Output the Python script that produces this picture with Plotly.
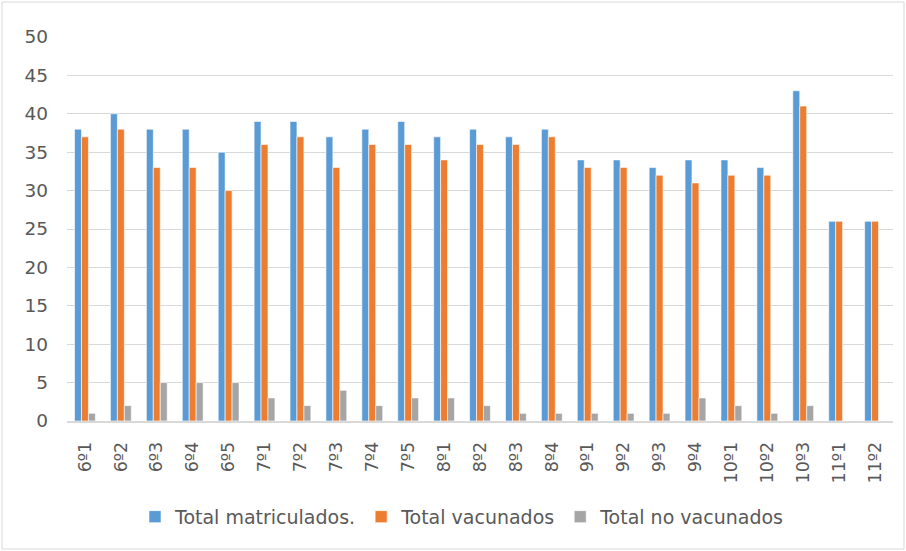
import plotly.graph_objects as go

categories = ["6º1", "6º2", "6º3", "6º4", "6º5", "7º1", "7º2", "7º3", "7º4", "7º5",
              "8º1", "8º2", "8º3", "8º4", "9º1", "9º2", "9º3", "9º4",
              "10º1", "10º2", "10º3", "11º1", "11º2"]
matriculados = [38, 40, 38, 38, 35, 39, 39, 37, 38, 39, 37, 38, 37, 38, 34, 34, 33, 34, 34, 33, 43, 26, 26]
vacunados = [37, 38, 33, 33, 30, 36, 37, 33, 36, 36, 34, 36, 36, 37, 33, 33, 32, 31, 32, 32, 41, 26, 26]
no_vacunados = [1, 2, 5, 5, 5, 3, 2, 4, 2, 3, 3, 2, 1, 1, 1, 1, 1, 3, 2, 1, 2, 0, 0]
y_ticks = [0, 5, 10, 15, 20, 25, 30, 35, 40, 45, 50]

series = [
    ("Total matriculados.", matriculados, "#5b9bd5"),
    ("Total vacunados", vacunados, "#ed7d31"),
    ("Total no vacunados", no_vacunados, "#a5a5a5"),
]

fig = go.Figure()
for name, vals, col in series:
    fig.add_trace(go.Bar(x=categories, y=vals, name=name,
                         marker=dict(color=col, line=dict(color="white", width=0.6))))

W, H = 906, 551
ml, mr, mt, mb = 67, 13, 37, 130
pw, ph = W - ml - mr, H - mt - mb

fig.update_layout(
    width=W, height=H,
    margin=dict(l=ml, r=mr, t=mt, b=mb),
    paper_bgcolor="white", plot_bgcolor="white",
    barmode="group", bargap=0.42, bargroupgap=0,
    font=dict(family="DejaVu Sans, sans-serif", color="#595959", size=15),
    xaxis=dict(tickangle=-90, showline=True, linecolor="#d9d9d9", linewidth=1.5,
               ticks="", tickfont=dict(size=17.5, color="#595959"), ticklabelstandoff=12),
    yaxis=dict(range=[0, 50], tickvals=y_ticks, showgrid=True, gridcolor="#d9d9d9",
               gridwidth=1, zeroline=False, showline=False,
               tickfont=dict(size=18.5, color="#595959"), ticklabelstandoff=18),
    legend=dict(orientation="h", x=(135 - ml) / pw, xanchor="left", y=-0.2, yanchor="top",
                font=dict(size=19, color="#595959"), itemwidth=30,
                traceorder="normal"),
    shapes=[dict(type="rect", xref="paper", yref="paper",
                 x0=-(ml - 2) / pw, x1=1 + (mr - 2) / pw,
                 y0=-(mb - 2) / ph, y1=1 + (mt - 2) / ph,
                 line=dict(color="#d9d9d9", width=1))],
)

fig.write_html("out.html", config={"displayModeBar": False},
               post_script="document.body.style.margin='0px';")
